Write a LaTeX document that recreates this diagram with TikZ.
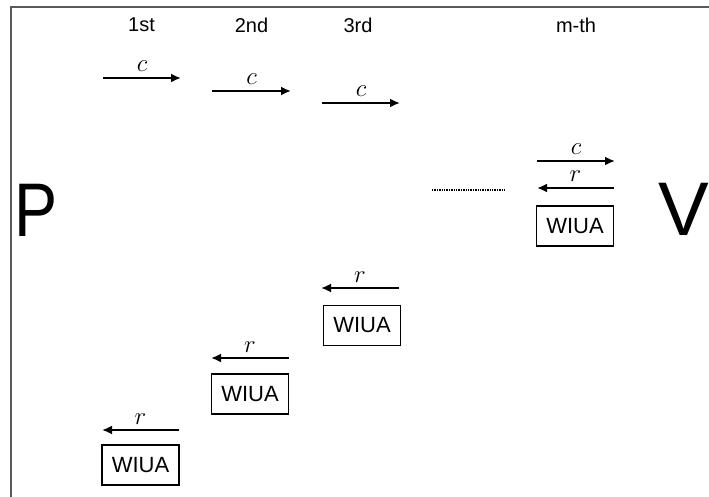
\documentclass[tikz,border=0pt]{standalone}
\usepackage{fontspec}
\setmainfont{Liberation Sans}
\usetikzlibrary{arrows.meta}
\begin{document}
\begin{tikzpicture}[x=1pt,y=-1pt,
  msg/.style={line width=2pt,-{Latex[length=10pt,width=9pt]}},
  lbl/.style={font=\fontsize{24}{24}\selectfont,inner sep=0pt,anchor=south,yshift=5pt},
  wiua/.style={draw,line width=1.9pt,minimum width=77pt,minimum height=40pt,inner sep=0pt,
    font=\fontsize{22}{22}\selectfont},
  hdr/.style={font=\fontsize{20}{20}\selectfont,inner sep=0pt},
  party/.style={font=\fontsize{76}{76}\selectfont,inner sep=0pt},
  frameline/.style={draw=black!65,line width=1.5pt}]
\useasboundingbox (0,0) rectangle (709,497);

% frame
\coordinate (fbl) at (11,497);
\coordinate (ftl) at (11,7);
\coordinate (ftr) at (709,7);
\draw[frameline] (fbl) -- (ftl) -- (ftr);

% parties
\node[party,xscale=0.85] (P) at (36,210) {P};
\node[party] (V) at (684,209) {V};

% round headers
\node[hdr] (h1) at (141.5,25) {1st};
\node[hdr] (h2) at (251.5,25) {2nd};
\node[hdr] (h3) at (358,25) {3rd};
\node[hdr] (hm) at (576,25) {m-th};

% challenges c
\coordinate (c1a) at (103,78);  \coordinate (c1b) at (181,78);
\coordinate (c2a) at (212,91);  \coordinate (c2b) at (291,91);
\coordinate (c3a) at (322,103); \coordinate (c3b) at (400,103);
\coordinate (cma) at (537,161); \coordinate (cmb) at (615,161);
\draw[msg] (c1a) -- node[lbl] (lc1) {$c$} (c1b);
\draw[msg] (c2a) -- node[lbl] (lc2) {$c$} (c2b);
\draw[msg] (c3a) -- node[lbl] (lc3) {$c$} (c3b);
\draw[msg] (cma) -- node[lbl] (lcm) {$c$} (cmb);

% responses r
\coordinate (r1a) at (179,430); \coordinate (r1b) at (102,430);
\coordinate (r2a) at (289,358); \coordinate (r2b) at (211,358);
\coordinate (r3a) at (399,288); \coordinate (r3b) at (321,288);
\coordinate (rma) at (614,188); \coordinate (rmb) at (537,188);
\draw[msg] (r1a) -- node[lbl] (lr1) {$r$} (r1b);
\draw[msg] (r2a) -- node[lbl] (lr2) {$r$} (r2b);
\draw[msg] (r3a) -- node[lbl] (lr3) {$r$} (r3b);
\draw[msg] (rma) -- node[lbl] (lrm) {$r$} (rmb);

% WIUA boxes
\node[wiua] (w1) at (140.5,465) {WIUA};
\node[wiua] (w2) at (250,394) {WIUA};
\node[wiua] (w3) at (362,325.5) {WIUA};
\node[wiua] (wm) at (575,226) {WIUA};

% omitted rounds
\coordinate (d1) at (432,190);
\coordinate (d2) at (505,190);
\draw[line width=1.4pt,dash pattern=on 1.4pt off 1pt] (d1) -- (d2);
\end{tikzpicture}
\end{document}
